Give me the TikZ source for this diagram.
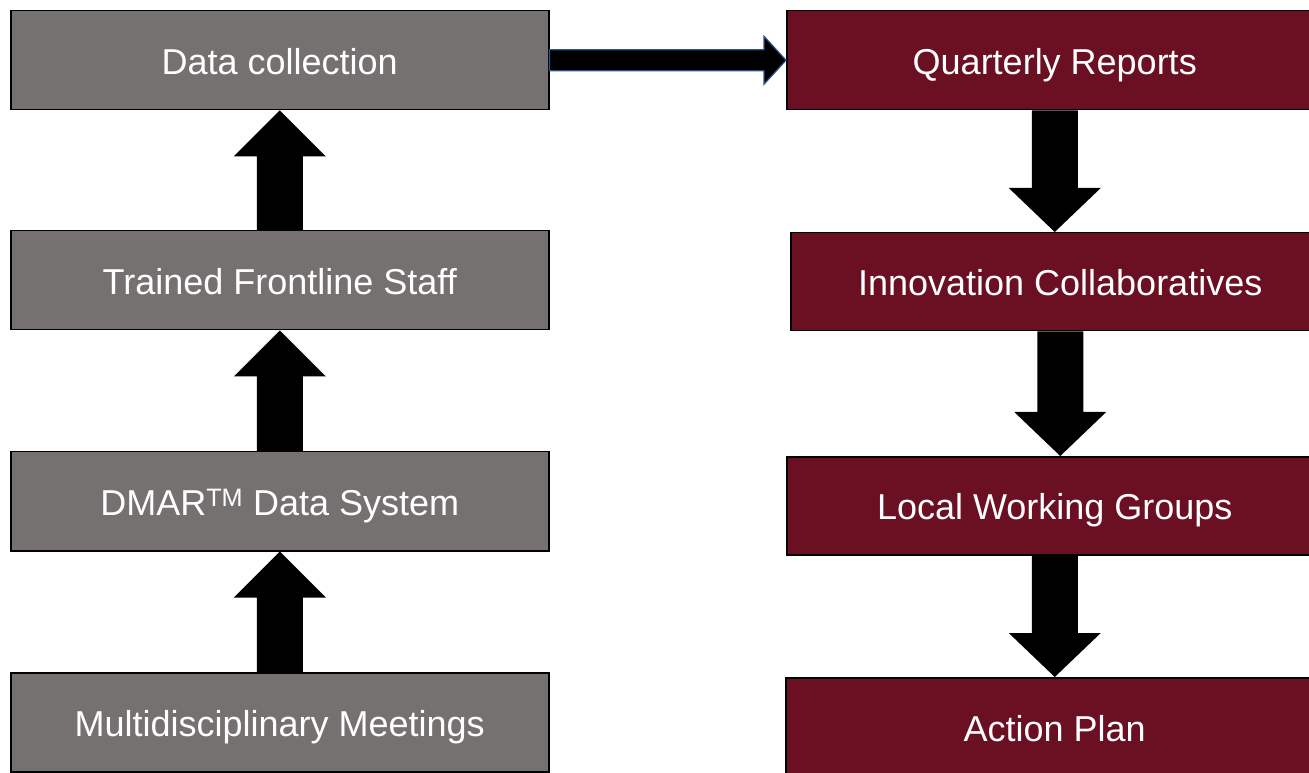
\documentclass[tikz,border=0pt]{standalone}
\usepackage{fontspec}
\setmainfont{Liberation Sans}
\usetikzlibrary{calc}
\definecolor{boxgray}{HTML}{767171}
\definecolor{boxred}{HTML}{6B0F23}
\definecolor{edgeblue}{HTML}{2F528F}
\tikzset{
  box/.style={draw=black, line width=1.5pt, rectangle, inner sep=0pt, text=white,
    font=\fontsize{36}{42}\selectfont, text height=28pt, text depth=0pt, anchor=north west},
  leftbox/.style={box, fill=boxgray, minimum width=538pt, minimum height=99pt},
  rightbox/.style={box, fill=boxred, minimum height=99pt},
  blockarrow/.style={fill=black}
}
\newcommand{\myUpArrow}[2]{%
  \fill[blockarrow] ($(#1.north)+(-23,0)$) -- ($(#2.south)+(-23,-46)$) -- ($(#2.south)+(-46,-46)$)
    -- (#2.south) -- ($(#2.south)+(46,-46)$) -- ($(#2.south)+(23,-46)$) -- ($(#1.north)+(23,0)$) -- cycle;}
\newcommand{\myDownArrow}[2]{%
  \fill[blockarrow] ($(#1.south)+(-23,0)$) -- ($(#1.south |- #2.north)+(-23,44)$) -- ($(#1.south |- #2.north)+(-46,44)$)
    -- (#1.south |- #2.north) -- ($(#1.south |- #2.north)+(46,44)$) -- ($(#1.south |- #2.north)+(23,44)$) -- ($(#1.south)+(23,0)$) -- cycle;}
\begin{document}
\begin{tikzpicture}[x=1pt,y=1pt]
\useasboundingbox (0,0) rectangle (1309,772);
% left column (y = 772 - pixel row)
\node[leftbox] (dc) at (10,762) {Data collection};
\node[leftbox] (tf) at (10,542) {Trained Frontline Staff};
\node[leftbox] (dm) at (10,321) {DMAR\textsuperscript{TM} Data System};
\node[leftbox] (mm) at (10,100) {Multidisciplinary Meetings};
% right column
\node[rightbox, minimum width=536pt] (qr) at (786,762) {Quarterly Reports};
\node[rightbox, minimum width=539pt, minimum height=98pt] (ic) at (790,540) {Innovation Collaboratives};
\node[rightbox, minimum width=536pt, minimum height=98pt] (lw) at (786,316) {Local Working Groups};
\node[rightbox, minimum width=538pt] (ap) at (785,95) {Action Plan};
% up arrows
\myUpArrow{tf}{dc}
\myUpArrow{dm}{tf}
\myUpArrow{mm}{dm}
% down arrows
\myDownArrow{qr}{ic}
\myDownArrow{ic}{lw}
\myDownArrow{lw}{ap}
% horizontal arrow
\filldraw[fill=black, draw=edgeblue, line width=1.2pt]
  ($(dc.east)+(0,10.5)$) -- ($(qr.west)+(-22,10.5)$) -- ($(qr.west)+(-22,24)$) -- (qr.west)
  -- ($(qr.west)+(-22,-24)$) -- ($(qr.west)+(-22,-10.5)$) -- ($(dc.east)+(0,-10.5)$) -- cycle;
\end{tikzpicture}
\end{document}
